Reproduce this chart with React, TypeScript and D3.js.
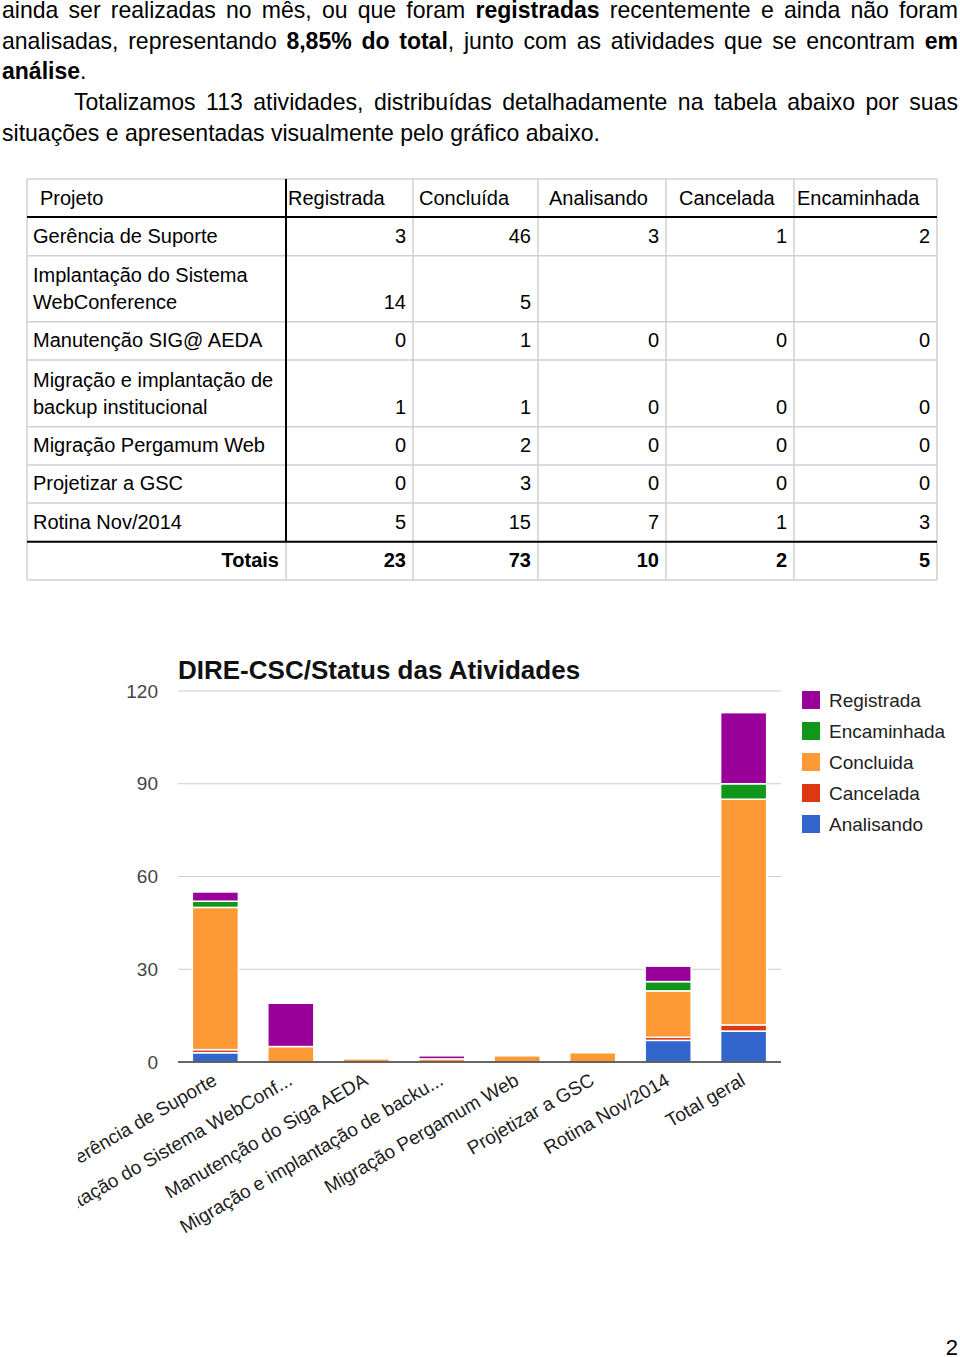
import React, { useMemo } from "react";
import * as d3 from "d3";

// ---------- Paragraph text (** marks bold) ----------
const paragraphLines = [
  "ainda ser realizadas no mês, ou que foram **registradas** recentemente e ainda não foram",
  "analisadas, representando **8,85% do total**, junto com as atividades que se encontram **em**",
  "**análise**.",
  "Totalizamos 113 atividades, distribuídas detalhadamente na tabela abaixo por suas",
  "situações e apresentadas visualmente pelo gráfico abaixo.",
];

// ---------- Table data ----------
const tableHeaders = ["Projeto", "Registrada", "Concluída", "Analisando", "Cancelada", "Encaminhada"];
const projectNames = [
  ["Gerência de Suporte"],
  ["Implantação do Sistema", "WebConference"],
  ["Manutenção SIG@ AEDA"],
  ["Migração e implantação de", "backup institucional"],
  ["Migração Pergamum Web"],
  ["Projetizar a GSC"],
  ["Rotina Nov/2014"],
];
const tRegistrada = [3, 14, 0, 1, 0, 0, 5];
const tConcluida = [46, 5, 1, 1, 2, 3, 15];
const tAnalisando = [3, null, 0, 0, 0, 0, 7];
const tCancelada = [1, null, 0, 0, 0, 0, 1];
const tEncaminhada = [2, null, 0, 0, 0, 0, 3];
const totalsLabel = "Totais";
const totalsRow = [23, 73, 10, 2, 5];

// ---------- Chart data ----------
const chartTitle = "DIRE-CSC/Status das Atividades";
const chartCategories = [
  "Gerência de Suporte",
  "Implantação do Sistema WebConf...",
  "Manutenção do Siga AEDA",
  "Migração e implantação de backu...",
  "Migração Pergamum Web",
  "Projetizar a GSC",
  "Rotina Nov/2014",
  "Total geral",
];
const cAnalisando = [3, 0, 0, 0, 0, 0, 7, 10];
const cCancelada = [1, 0, 0, 0, 0, 0, 1, 2];
const cConcluida = [46, 5, 1, 1, 2, 3, 15, 73];
const cEncaminhada = [2, 0, 0, 0, 0, 0, 3, 5];
const cRegistrada = [3, 14, 0, 1, 0, 0, 5, 23];
const yTicks = [0, 30, 60, 90, 120];
const stackKeys = ["Analisando", "Cancelada", "Concluida", "Encaminhada", "Registrada"];
const legendKeys = ["Registrada", "Encaminhada", "Concluida", "Cancelada", "Analisando"];
const pageNumber = "2";

// ---------- Styling / layout ----------
const COLORS: Record<string, string> = {
  Registrada: "#990099",
  Encaminhada: "#109618",
  Concluida: "#fd9a36",
  Cancelada: "#dc3912",
  Analisando: "#3366cc",
};
const FONT = '"Liberation Sans", Arial, Helvetica, sans-serif';
const PARA_FS = 24;
const lineLayout = [
  { x0: 2, x1: 958, y: 18, justify: true },
  { x0: 2, x1: 958, y: 48.5, justify: true },
  { x0: 2, x1: 958, y: 79, justify: false },
  { x0: 74, x1: 958, y: 110, justify: true },
  { x0: 2, x1: 600, y: 140.5, justify: false, fit: true },
];
const colX = [27, 286, 413, 538, 666, 794, 937];
const rowY = [179, 217, 255.7, 321.7, 360, 426.7, 465, 503, 541.7, 580];
const headerTextX = [40, 288, 419, 549, 679, 797];

type Run = { t: string; b: boolean };
function parseLine(s: string): Run[][] {
  const parts = s.split("**");
  const words: Run[][] = [];
  let cur: Run[] = [];
  parts.forEach((p, i) => {
    const bold = i % 2 === 1;
    const pieces = p.split(" ");
    pieces.forEach((piece, j) => {
      if (j > 0) {
        if (cur.length) words.push(cur);
        cur = [];
      }
      if (piece) cur.push({ t: piece, b: bold });
    });
  });
  if (cur.length) words.push(cur);
  return words;
}

function Paragraph() {
  const laid = useMemo(() => {
    const ctx = document.createElement("canvas").getContext("2d")!;
    const measure = (t: string, b: boolean) => {
      ctx.font = `${b ? "bold " : ""}${PARA_FS}px ${FONT}`;
      return ctx.measureText(t).width;
    };
    const wordW = (w: Run[]) => w.reduce((a, r) => a + measure(r.t, r.b), 0);
    const space = measure(" ", false);
    const parsed = paragraphLines.map(parseLine);
    const lastIdx = lineLayout.findIndex((l: any) => l.fit);
    const lw = parsed[lastIdx];
    const natural = lw.reduce((a, w) => a + wordW(w), 0) + space * (lw.length - 1);
    const s = (lineLayout[lastIdx].x1 - lineLayout[lastIdx].x0) / natural;
    return parsed.map((words, i) => {
      const L = lineLayout[i];
      const widths = words.map(wordW);
      const sumW = widths.reduce((a, b) => a + b, 0);
      let gap = space;
      if (L.justify && words.length > 1) {
        gap = ((L.x1 - L.x0) / s - sumW) / (words.length - 1);
      }
      let x = 0;
      const pos = widths.map((w) => {
        const p = x;
        x += w + gap;
        return p;
      });
      return { words, pos, L, s };
    });
  }, []);
  return (
    <g fontFamily={FONT} fontSize={PARA_FS} fill="#000">
      {laid.map(({ words, pos, L, s }, i) => (
        <text key={i} transform={`translate(${L.x0},${L.y}) scale(${s},1)`}>
          {words.map((w, j) =>
            w.map((r, k) => (
              <tspan
                key={`${j}-${k}`}
                x={k === 0 ? pos[j] : undefined}
                fontWeight={r.b ? "bold" : "normal"}
              >
                {r.t}
              </tspan>
            ))
          )}
        </text>
      ))}
    </g>
  );
}

function Table() {
  const cols = [tRegistrada, tConcluida, tAnalisando, tCancelada, tEncaminhada];
  const grey = "#d0d0d0";
  const lines: JSX.Element[] = [];
  rowY.forEach((y, i) => {
    if (i === 1 || i === 8) return;
    lines.push(<line key={`h${i}`} x1={colX[0]} x2={colX[6]} y1={y} y2={y} stroke={grey} strokeWidth={1.5} />);
  });
  colX.forEach((x, i) => {
    if (i === 1) {
      lines.push(<line key={`v${i}b`} x1={x} x2={x} y1={rowY[8]} y2={rowY[9]} stroke={grey} strokeWidth={1.5} />);
      return;
    }
    lines.push(<line key={`v${i}`} x1={x} x2={x} y1={rowY[0]} y2={rowY[9]} stroke={grey} strokeWidth={1.5} />);
  });
  lines.push(<line key="d1" x1={colX[0]} x2={colX[6]} y1={rowY[1]} y2={rowY[1]} stroke="#000" strokeWidth={2} />);
  lines.push(<line key="d2" x1={colX[0]} x2={colX[6]} y1={rowY[8]} y2={rowY[8]} stroke="#000" strokeWidth={2} />);
  lines.push(<line key="d3" x1={colX[1]} x2={colX[1]} y1={rowY[0]} y2={rowY[8]} stroke="#000" strokeWidth={2} />);

  const off = 12.7;
  return (
    <g fontFamily={FONT} fontSize={20} fill="#000">
      {lines}
      {tableHeaders.map((h, i) => (
        <text key={h} x={headerTextX[i]} y={rowY[1] - 12}>{h}</text>
      ))}
      {projectNames.map((name, r) => {
        const bottom = rowY[r + 2];
        return (
          <g key={r}>
            {name.map((ln, k) => (
              <text key={k} x={33} y={bottom - off - (name.length - 1 - k) * 27}>{ln}</text>
            ))}
            {cols.map((c, ci) =>
              c[r] === null ? null : (
                <text key={ci} x={colX[ci + 2] - 7} y={bottom - off} textAnchor="end">{c[r]}</text>
              )
            )}
          </g>
        );
      })}
      <g fontWeight="bold">
        <text x={colX[1] - 7} y={rowY[9] - off} textAnchor="end">{totalsLabel}</text>
        {totalsRow.map((v, ci) => (
          <text key={ci} x={colX[ci + 2] - 7} y={rowY[9] - off} textAnchor="end">{v}</text>
        ))}
      </g>
    </g>
  );
}

function Chart() {
  const x = d3.scaleBand<string>().domain(chartCategories).range([178, 781]).paddingInner(0.39).paddingOuter(0.19);
  const y = d3.scaleLinear().domain([0, 120]).range([1062, 691]);
  const rows = chartCategories.map((c, i) => ({
    cat: c,
    Analisando: cAnalisando[i],
    Cancelada: cCancelada[i],
    Concluida: cConcluida[i],
    Encaminhada: cEncaminhada[i],
    Registrada: cRegistrada[i],
  }));
  const series = d3.stack<any>().keys(stackKeys)(rows);
  return (
    <g fontFamily={FONT}>
      <defs>
        <clipPath id="chartClip">
          <rect x={78} y={600} width={882} height={700} />
        </clipPath>
      </defs>
      <text x={178} y={679} fontSize={26} fontWeight="bold" fill="#111">{chartTitle}</text>
      {yTicks.map((t) => (
        <g key={t}>
          {t !== 0 && <line x1={178} x2={781} y1={y(t)} y2={y(t)} stroke="#cccccc" strokeWidth={1.2} />}
          <text x={158} y={y(t)} dy="0.35em" textAnchor="end" fontSize={19} fill="#444">{t}</text>
        </g>
      ))}
      {series.map((s) => (
        <g key={s.key} fill={COLORS[s.key]}>
          {s.map((d, i) =>
            d[1] - d[0] > 0 ? (
              <rect
                key={i}
                x={x(d.data.cat)}
                y={y(d[1])}
                width={x.bandwidth()}
                height={y(d[0]) - y(d[1])}
                stroke="#fff"
                strokeWidth={1.5}
              />
            ) : null
          )}
        </g>
      ))}
      <line x1={178} x2={781} y1={y(0)} y2={y(0)} stroke="#333" strokeWidth={1.5} />
      <g clipPath="url(#chartClip)">
        {chartCategories.map((c) => {
          const cx = (x(c) as number) + x.bandwidth() / 2;
          return (
            <text
              key={c}
              transform={`translate(${cx - 4},${y(0) + 10}) rotate(-30)`}
              textAnchor="end"
              dy="0.72em"
              fontSize={19}
              fill="#222"
            >
              {c}
            </text>
          );
        })}
      </g>
      {legendKeys.map((k, i) => (
        <g key={k} transform={`translate(802,${691 + i * 31})`}>
          <rect width={18} height={18} fill={COLORS[k]} />
          <text x={27} y={9} dy="0.36em" fontSize={19} fill="#222">{k}</text>
        </g>
      ))}
    </g>
  );
}

export default function App() {
  return (
    <svg
      width={960}
      height={1357}
      viewBox="0 0 960 1357"
      style={{ position: "absolute", left: 0, top: 0, background: "#fff" }}
    >
      <rect width={960} height={1357} fill="#fff" />
      <Paragraph />
      <Table />
      <Chart />
      <text x={958} y={1355} textAnchor="end" fontFamily={FONT} fontSize={22} fill="#000">{pageNumber}</text>
    </svg>
  );
}
